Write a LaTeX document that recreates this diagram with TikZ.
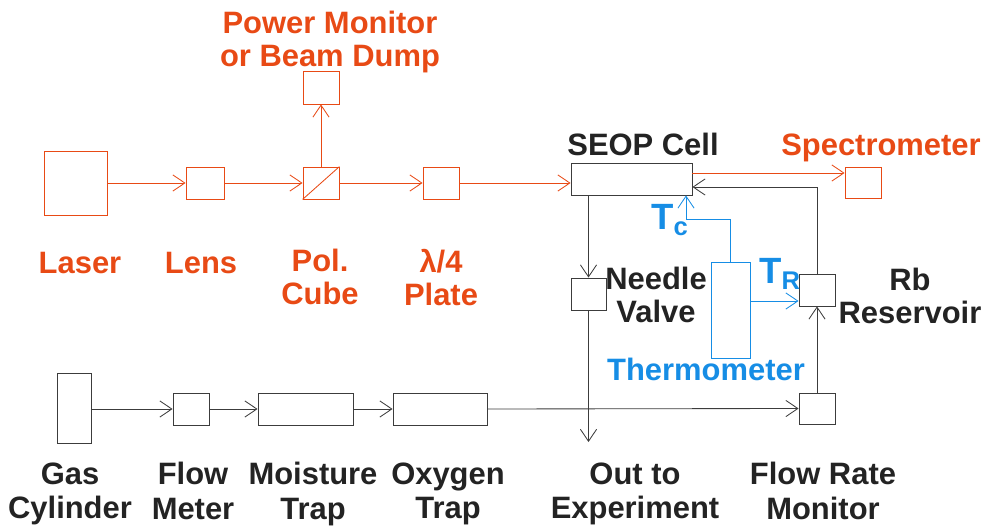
\documentclass[tikz,border=0pt]{standalone}
\usepackage{fontspec}
\setmainfont{Liberation Sans}
\usetikzlibrary{arrows.meta}
\definecolor{beamorange}{RGB}{232,74,21}
\definecolor{probeblue}{RGB}{22,141,229}
\definecolor{gasgray}{RGB}{60,60,60}
\definecolor{txtgray}{RGB}{35,35,35}
\begin{document}
\begin{tikzpicture}[>={Straight Barb[length=8.5pt,width=11.5pt]}, line width=0.6pt,
  part/.style={draw, rectangle, inner sep=0pt},
  optic/.style={part, draw=beamorange},
  gas/.style={part, draw=gasgray},
  lbl/.style={font=\bfseries\fontsize{22}{23.5}\selectfont, align=center, inner sep=0pt, text=txtgray,
    execute at begin node=\strut, execute at end node=\strut},
  olbl/.style={lbl, text=beamorange},
  blbl/.style={lbl, text=probeblue}]
  \useasboundingbox (0,0) rectangle (24.7,-13.225);
  % Optical path
  \node[optic, minimum width=1.575cm, minimum height=1.6cm] (laser) at (1.8875,-4.575) {};
  \node[optic, minimum width=0.95cm, minimum height=0.8cm] (lens) at (5.125,-4.575) {};
  \node[optic, minimum width=0.9cm, minimum height=0.8cm] (cube) at (8.025,-4.575) {};
  \draw[beamorange] (cube.south west) -- (cube.north east);
  \node[optic, minimum width=0.9cm, minimum height=0.825cm] (dump) at (8.025,-2.1875) {};
  \node[optic, minimum width=0.9cm, minimum height=0.8cm] (plate) at (11.025,-4.575) {};
  \node[optic, minimum width=0.9cm, minimum height=0.775cm] (spec) at (21.575,-4.5625) {};
  % SEOP cell and reservoir
  \node[gas, minimum width=3.025cm, minimum height=0.8cm] (cell) at (15.7875,-4.475) {};
  \node[gas, minimum width=0.875cm, minimum height=0.8cm] (valve) at (14.7125,-7.35) {};
  \node[part, draw=probeblue, minimum width=0.975cm, minimum height=2.4cm] (thermo) at (18.2625,-7.75) {};
  \node[gas, minimum width=0.9cm, minimum height=0.8cm] (res) at (20.425,-7.25) {};
  % Gas line
  \node[gas, minimum width=0.85cm, minimum height=1.75cm] (cyl) at (1.85,-10.2) {};
  \node[gas, minimum width=0.9cm, minimum height=0.8cm] (meter) at (4.775,-10.225) {};
  \node[gas, minimum width=2.375cm, minimum height=0.8cm] (moist) at (7.6375,-10.225) {};
  \node[gas, minimum width=2.35cm, minimum height=0.8cm] (oxy) at (11,-10.225) {};
  \node[gas, minimum width=0.9cm, minimum height=0.775cm] (rate) at (20.425,-10.2125) {};
  \coordinate (out) at (14.7125,-11.05);
  \coordinate (tc) at (17.15,-5.475);
  \coordinate (tr) at (0,-7.525);
  % Beam
  \draw[->, beamorange] (laser.east) -- (lens.west);
  \draw[->, beamorange] (lens.east) -- (cube.west);
  \draw[->, beamorange] (cube.east) -- (plate.west);
  \draw[->, beamorange] (plate.east) -- (plate.east -| cell.west);
  \draw[->, beamorange] (cube.north) -- (dump.south);
  \draw[->, beamorange] ([yshift=0.15cm]cell.east) -- ([yshift=0.15cm]cell.east -| spec.west);
  % Gas flow
  \draw[->, gasgray] (cyl.east |- meter.west) -- (meter.west);
  \draw[->, gasgray] (meter.east) -- (moist.west);
  \draw[->, gasgray] (moist.east) -- (oxy.west);
  \draw[->, gasgray] (oxy.east) -- (rate.west);
  \draw[->, gasgray] (rate.north) -- (res.south);
  \draw[->, gasgray] (res.north) |- ([yshift=-0.2cm]cell.east);
  \draw[->, gasgray] (valve.north |- cell.south) -- (valve.north);
  \draw[->, gasgray] (valve.south) -- (out);
  % Temperatures
  \draw[->, probeblue] (thermo.north) |- (tc) -- (tc |- cell.south);
  \draw[->, probeblue] (thermo.east |- tr) -- (res.west |- tr);
  % Labels
  \node[olbl] (lpow) at (8.25,-1.1) {Power Monitor\\or Beam Dump};
  \node[lbl] (lcell) at (16.075,-3.725) {SEOP Cell};
  \node[olbl] (lspec) at (22.025,-3.725) {Spectrometer};
  \node[olbl] (llaser) at (2.0,-6.675) {Laser};
  \node[olbl] (llens) at (5.025,-6.675) {Lens};
  \node[olbl] (lcube) at (8.0,-7.05) {Pol.\\Cube};
  \node[olbl] (lplate) at (11.025,-7.05) {λ/4\\Plate};
  \node[lbl] (lvalve) at (16.4,-7.5) {Needle\\Valve};
  \node[lbl] (lres) at (22.75,-7.525) {Rb\\Reservoir};
  \node[blbl] (ltherm) at (17.65,-9.35) {Thermometer};
  \node[blbl, font=\bfseries\fontsize{26}{28}\selectfont] (ltc) at (16.75,-5.55) {T\textsubscript{c}};
  \node[blbl, font=\bfseries\fontsize{26}{28}\selectfont] (ltr) at (19.5,-6.9) {T\textsubscript{R}};
  \node[lbl, font=\bfseries\fontsize{22}{24.5}\selectfont] (lcyl) at (1.75,-12.4) {Gas\\Cylinder};
  \node[lbl, font=\bfseries\fontsize{22}{24.5}\selectfont] (lmeter) at (4.825,-12.4) {Flow\\Meter};
  \node[lbl, font=\bfseries\fontsize{22}{24.5}\selectfont] (lmoist) at (7.825,-12.4) {Moisture\\Trap};
  \node[lbl, font=\bfseries\fontsize{22}{24.5}\selectfont] (loxy) at (11.2,-12.4) {Oxygen\\Trap};
  \node[lbl, font=\bfseries\fontsize{22}{24.5}\selectfont] (lout) at (15.875,-12.4) {Out to\\Experiment};
  \node[lbl, font=\bfseries\fontsize{22}{24.5}\selectfont] (lrate) at (20.575,-12.4) {Flow Rate\\Monitor};
\end{tikzpicture}
\end{document}
